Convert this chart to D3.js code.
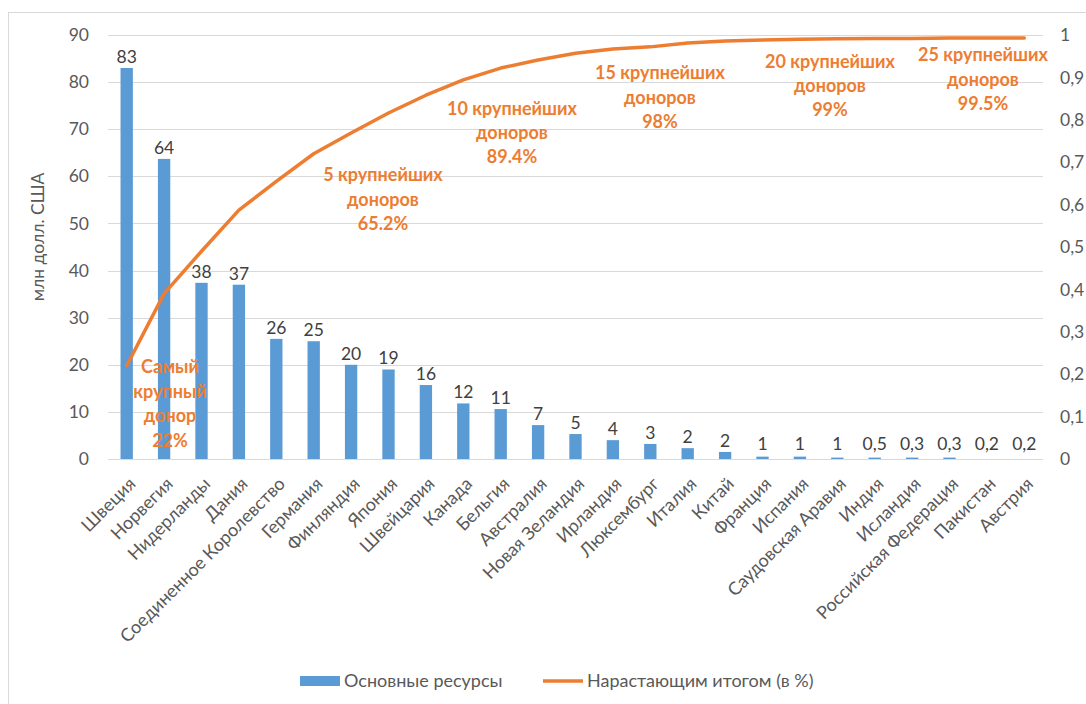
<!DOCTYPE html>
<html><head><meta charset="utf-8">
<script src="https://cdn.jsdelivr.net/npm/d3@7"></script>
<style>
body{margin:0;background:#fff;}
svg text{font-family:Lato,"Noto Sans",sans-serif;}
</style></head>
<body><svg id="c" width="1086" height="704"></svg>
<script>
const countries = ["Швеция","Норвегия","Нидерланды","Дания","Соединенное Королевство","Германия","Финляндия","Япония","Швейцария","Канада","Бельгия","Австралия","Новая Зеландия","Ирландия","Люксембург","Италия","Китай","Франция","Испания","Саудовская Аравия","Индия","Исландия","Российская Федерация","Пакистан","Австрия"];
const resources = [83,63.7,37.4,37,25.5,25,20,19,15.7,11.8,10.6,7.2,5.3,4,3.2,2.3,1.5,0.5,0.5,0.3,0.3,0.3,0.3,0,0];
const valueLabels = ["83","64","38","37","26","25","20","19","16","12","11","7","5","4","3","2","2","1","1","1","0,5","0,3","0,3","0,2","0,2"];
const cumulative = [0.22,0.39,0.49,0.587,0.655,0.72,0.769,0.816,0.858,0.894,0.922,0.941,0.957,0.967,0.972,0.981,0.986,0.988,0.990,0.991,0.992,0.992,0.993,0.993,0.993];
const leftTicks = [0,10,20,30,40,50,60,70,80,90];
const rightTicks = [0,0.1,0.2,0.3,0.4,0.5,0.6,0.7,0.8,0.9,1];
const annotations = [
  {lines:["Самый","крупный","донор","22%"]},
  {lines:["5 крупнейших","доноров","65.2%"]},
  {lines:["10 крупнейших","доноров","89.4%"]},
  {lines:["15 крупнейших","доноров","98%"]},
  {lines:["20 крупнейших","доноров","99%"]},
  {lines:["25 крупнейших","доноров","99.5%"]}
];
const annotPos = [[170,367,24.5],[383,175,24.5],[512,109,24],[660,73,24.5],[830,62,24],[983,55,24.5]];

const svg = d3.select("#c");
const L=108, R=1043, T=35, B=459;
const x = d3.scaleBand().domain(countries).range([L,R]).paddingInner(0.67).paddingOuter(0.335);
const y = d3.scaleLinear().domain([0,90]).range([B,T]);
const y2 = d3.scaleLinear().domain([0,1]).range([B,T]);
const grey="#595959", blue="#5B9BD5", orange="#ED7D31";

svg.append("rect").attr("x",8.5).attr("y",12.5).attr("width",1100).attr("height",720)
  .attr("fill","none").attr("stroke","#d9d9d9").attr("stroke-width",1);

// gridlines
svg.append("g").selectAll("line").data(leftTicks).join("line")
  .attr("x1",L).attr("x2",R).attr("y1",d=>Math.round(y(d))+0.5).attr("y2",d=>Math.round(y(d))+0.5)
  .attr("stroke","#d9d9d9").attr("stroke-width",1);

// left axis
const la = svg.append("g").attr("transform",`translate(${L},0)`)
  .call(d3.axisLeft(y).tickValues(leftTicks).tickSize(0).tickPadding(19));
la.select(".domain").remove();
la.selectAll("text").attr("fill",grey).attr("font-size",17.5);

// right axis
const ra = svg.append("g").attr("transform",`translate(${R},0)`)
  .call(d3.axisRight(y2).tickValues(rightTicks).tickSize(0).tickPadding(17)
  .tickFormat(d=>d3.format(".1~f")(d).replace(".",",")));
ra.select(".domain").remove();
ra.selectAll("text").attr("fill",grey).attr("font-size",17.5);

// bars
svg.append("g").selectAll("rect").data(resources).join("rect")
  .attr("x",(d,i)=>x(countries[i])).attr("width",x.bandwidth())
  .attr("y",d=>y(d)).attr("height",d=>B-y(d)).attr("fill",blue);

// value labels
svg.append("g").selectAll("text").data(valueLabels).join("text")
  .attr("x",(d,i)=>x(countries[i])+x.bandwidth()/2)
  .attr("y",(d,i)=>Math.min(y(resources[i]),B-4)-5)
  .attr("text-anchor","middle").attr("fill","#404040").attr("font-size",17.5).text(d=>d);

// x labels
svg.append("g").selectAll("text").data(countries).join("text")
  .attr("transform",(d)=>`translate(${x(d)+x.bandwidth()/2+10},${485}) rotate(-45)`)
  .attr("text-anchor","end").attr("fill",grey).attr("font-size",18).text(d=>d);

// cumulative line
const line = d3.line().x((d,i)=>x(countries[i])+x.bandwidth()/2).y(d=>y2(d));
svg.append("path").datum(cumulative).attr("d",line).attr("fill","none")
  .attr("stroke",orange).attr("stroke-width",3.5).attr("stroke-linecap","round").attr("stroke-linejoin","round");

// annotations
annotations.forEach((a,k)=>{
  const [cx,cy,dy]=annotPos[k];
  const t = svg.append("text").attr("text-anchor","middle").attr("fill",orange)
    .attr("font-size",18).attr("font-weight","bold");
  a.lines.forEach((ln,j)=>t.append("tspan").attr("x",cx).attr("y",cy+j*dy).attr("dy","0.35em").text(ln));
});

// y title
svg.append("text").attr("transform","translate(38,237) rotate(-90)").attr("text-anchor","middle")
  .attr("dy","0.35em").attr("fill",grey).attr("font-size",17.5).text("млн долл. США");

// legend
const lg = svg.append("g");
lg.append("rect").attr("x",300).attr("y",676).attr("width",40).attr("height",10).attr("fill",blue);
lg.append("text").attr("x",344).attr("y",681).attr("dy","0.35em").attr("fill",grey).attr("font-size",18).text("Основные ресурсы");
lg.append("line").attr("x1",543).attr("x2",583).attr("y1",681).attr("y2",681).attr("stroke",orange).attr("stroke-width",3.5);
lg.append("text").attr("x",587).attr("y",681).attr("dy","0.35em").attr("fill",grey).attr("font-size",18).text("Нарастающим итогом (в %)");
</script></body></html>
